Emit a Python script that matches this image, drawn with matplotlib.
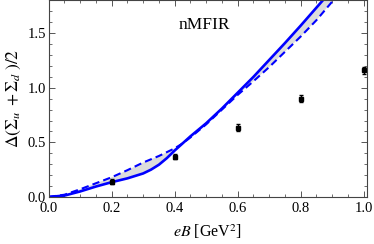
import matplotlib
matplotlib.use("Agg")
import matplotlib.pyplot as plt
from matplotlib.ticker import MultipleLocator

plt.rcParams['font.family'] = ['Liberation Serif', 'DejaVu Serif']
plt.rcParams['mathtext.fontset'] = 'stix'

# data
eB = [0.0, 0.05, 0.1, 0.15, 0.2, 0.25, 0.3, 0.325, 0.35, 0.375, 0.4, 0.425,
      0.45, 0.5, 0.55, 0.6, 0.65, 0.7, 0.75, 0.8, 0.85, 0.9, 0.95, 1.0]
solid = [0.0, 0.012, 0.05, 0.095, 0.135, 0.17, 0.215, 0.25, 0.295, 0.355,
         0.425, 0.49, 0.555, 0.675, 0.81, 0.955, 1.10, 1.255, 1.41, 1.57,
         1.735, 1.90, 2.07, 2.24]
dashed = [0.0, 0.02, 0.07, 0.125, 0.18, 0.245, 0.315, 0.345, 0.375, 0.41,
          0.445, 0.49, 0.545, 0.665, 0.80, 0.935, 1.06, 1.19, 1.33, 1.47,
          1.62, 1.79, 1.95, 2.10]
lat_x = [0.2, 0.4, 0.6, 0.8, 1.0]
lat_y = [0.14, 0.37, 0.635, 0.90, 1.16]
lat_err = [0.025, 0.025, 0.03, 0.03, 0.03]

fig = plt.figure(figsize=(3.74, 2.44), dpi=100)
ax = fig.add_axes([0.13, 0.193, 0.851, 0.805])

ax.fill_between(eB, solid, dashed, color='#dcdcdc', lw=0)
ax.plot(eB, solid, color='#0000ff', lw=1.9)
ax.plot(eB, dashed, color='#0000ff', lw=1.5, dashes=(3.5, 2))
ax.errorbar(lat_x, lat_y, yerr=lat_err, fmt='s', color='black', ms=2.5,
            capsize=1.6, elinewidth=1.0, capthick=1.0)

ax.set_xlim(0, 1.01)
ax.set_ylim(0, 1.8)
ax.xaxis.set_major_locator(MultipleLocator(0.2))
ax.xaxis.set_minor_locator(MultipleLocator(0.05))
ax.yaxis.set_major_locator(MultipleLocator(0.5))
ax.yaxis.set_minor_locator(MultipleLocator(0.1))
ax.tick_params(which='both', direction='in', top=True, right=True,
               labelsize=10.5, color='#555555')
ax.tick_params(axis='x', pad=4)
ax.tick_params(axis='y', pad=2)
ax.tick_params(which='major', length=4, width=0.7)
ax.tick_params(which='minor', length=2, width=0.6)
ax.set_xticklabels([f"{v:.1f}" for v in ax.get_xticks()])
ax.set_yticklabels([f"{v:.1f}" for v in ax.get_yticks()])
for s in ax.spines.values():
    s.set_color('#444444')
    s.set_linewidth(0.8)

ax.set_xlabel(r'$eB$ [GeV$^2$]', fontsize=11.5, labelpad=5)
ax.set_ylabel(r'$\Delta(\Sigma_u\;+\Sigma_d\;)/2$', fontsize=12.5, labelpad=3)
ax.text(0.489, 0.873, 'nMFIR', transform=ax.transAxes, ha='center',
        va='center', fontsize=12.5)

fig.savefig('out.png', dpi=100)
